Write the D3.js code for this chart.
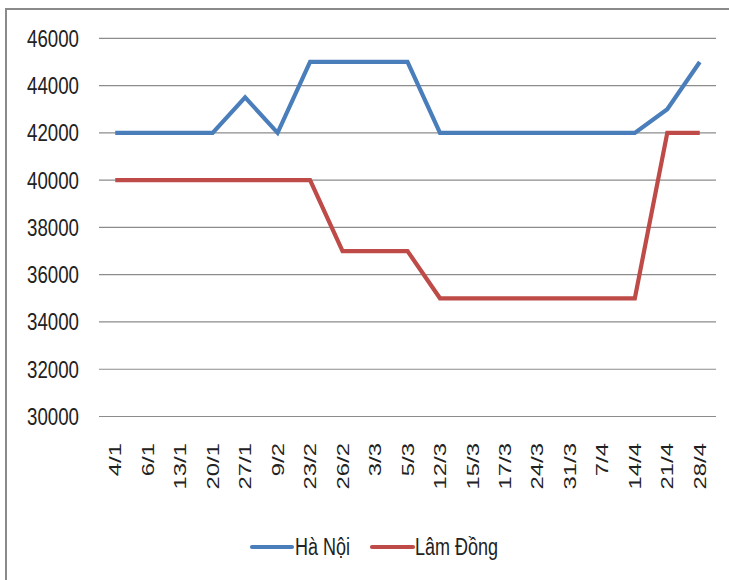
<!DOCTYPE html>
<html><head><meta charset="utf-8">
<script src="https://cdn.jsdelivr.net/npm/d3@7"></script>
<style>body{margin:0;background:#fff}svg{display:block}text{font-family:"Liberation Sans",Arial,sans-serif;fill:#222}</style>
</head><body>
<svg id="c" width="729" height="580"></svg>
<script>
const categories = ["4/1","6/1","13/1","20/1","27/1","9/2","23/2","26/2","3/3","5/3","12/3","15/3","17/3","24/3","31/3","7/4","14/4","21/4","28/4"];
const haNoi = [42000,42000,42000,42000,43500,42000,45000,45000,45000,45000,42000,42000,42000,42000,42000,42000,42000,43000,45000];
const lamDong = [40000,40000,40000,40000,40000,40000,40000,37000,37000,37000,35000,35000,35000,35000,35000,35000,35000,42000,42000];
const yTicks = [30000,32000,34000,36000,38000,40000,42000,44000,46000];
const seriesNames = ["Hà Nội","Lâm Đồng"];
const colors = ["#4a7ebb","#be4b48"];

const svg = d3.select("#c");
svg.append("rect").attr("x",6).attr("y",9).attr("width",740).attr("height",590)
  .attr("fill","none").attr("stroke","#8a8a8a").attr("stroke-width",2);

const x = d3.scalePoint().domain(categories).range([99,716]).padding(0.5);
const y = d3.scaleLinear().domain([30000,46000]).range([416.5,38.3]);

// gridlines
svg.append("g").selectAll("line").data(yTicks).join("line")
  .attr("x1",99).attr("x2",716).attr("y1",d=>y(d)).attr("y2",d=>y(d))
  .attr("stroke","#8c8c8c").attr("stroke-width",1.2);

// y labels
svg.append("g").selectAll("text").data(yTicks).join("text")
  .attr("transform",d=>`translate(79,${y(d)}) scale(1,1.25)`)
  .attr("text-anchor","end").attr("dy","0.36em").attr("font-size",18.7)
  .text(d=>d);

// x labels
svg.append("g").selectAll("text").data(categories).join("text")
  .attr("transform",d=>`translate(${x(d)},443) rotate(-90) scale(1.42,1)`)
  .attr("text-anchor","end").attr("dy","0.36em").attr("font-size",16.8)
  .text(d=>d);

const line = d3.line().x((d,i)=>x(categories[i])).y(d=>y(d));
[haNoi,lamDong].forEach((s,k)=>{
  svg.append("path").datum(s).attr("d",line).attr("fill","none")
    .attr("stroke",colors[k]).attr("stroke-width",4.2).attr("stroke-linejoin","miter");
});

// legend
const leg = [{x1:252,x2:292,tx:295},{x1:372,x2:413,tx:415}];
leg.forEach((l,k)=>{
  svg.append("line").attr("x1",l.x1).attr("x2",l.x2).attr("y1",547).attr("y2",547)
    .attr("stroke",colors[k]).attr("stroke-width",4.2).attr("stroke-linecap","round");
  svg.append("text").attr("transform",`translate(${l.tx},555) scale(1,1.37)`)
    .attr("font-size",18).text(seriesNames[k]);
});
</script>
</body></html>
